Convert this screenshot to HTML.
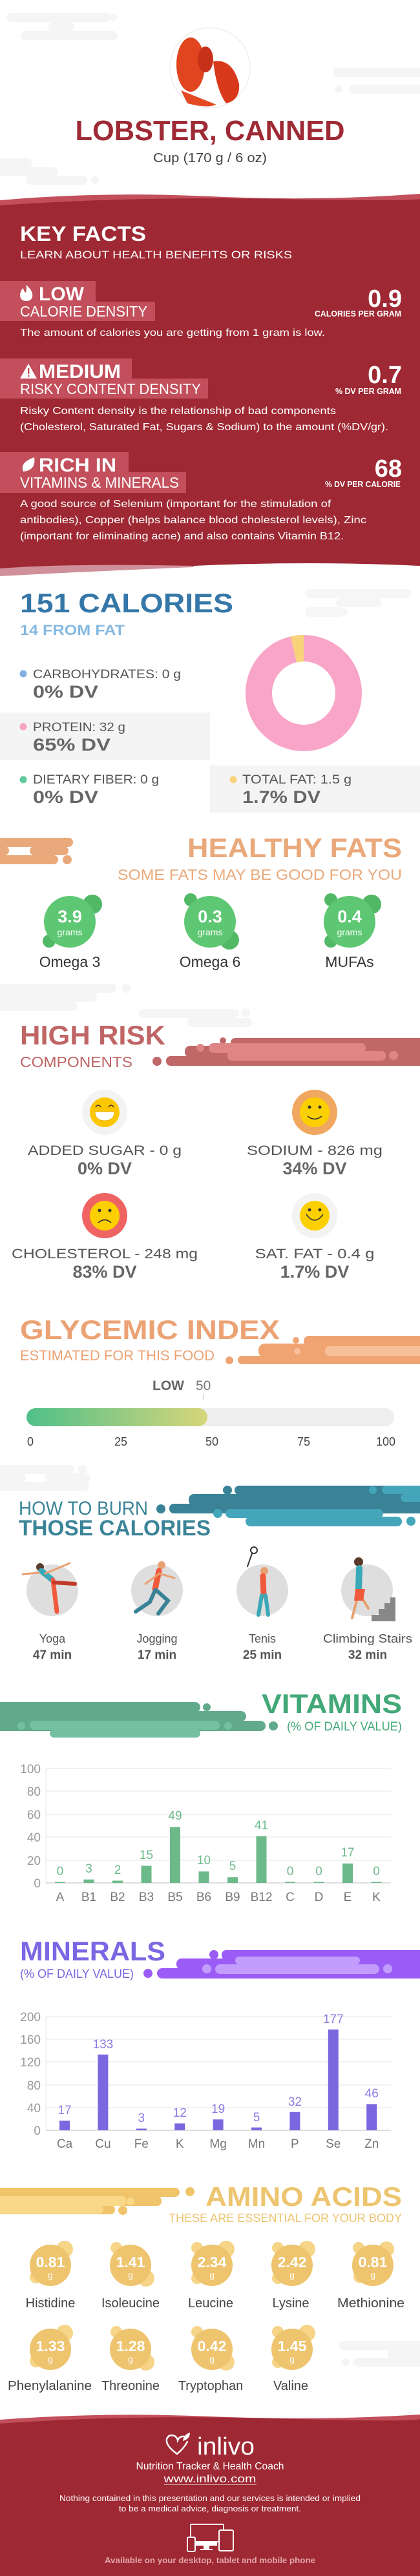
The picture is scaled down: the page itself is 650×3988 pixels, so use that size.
<!DOCTYPE html>
<html><head><meta charset="utf-8"><style>html,body{margin:0;padding:0;background:#fff}svg{display:block}</style></head><body>
<svg width="650" height="3988" viewBox="0 0 650 3988" xmlns="http://www.w3.org/2000/svg" font-family="Liberation Sans, Arial, sans-serif">
<defs>
<linearGradient id="gi" x1="0" x2="1" y1="0" y2="0"><stop offset="0" stop-color="#4fc08a"/><stop offset="1" stop-color="#d6d67a"/></linearGradient>
</defs>
<!-- top deco -->
<g fill="#f5f5f5">
<rect x="10" y="20" width="160" height="14" rx="7"/><rect x="75" y="34" width="40" height="14" rx="7"/><rect x="32" y="48" width="150" height="14" rx="7"/><circle cx="175" cy="27" r="6"/>
<rect x="515" y="105" width="150" height="14" rx="7"/><rect x="540" y="131" width="120" height="14" rx="7"/><circle cx="524" cy="138" r="6"/>
<rect x="-10" y="245" width="60" height="14" rx="7"/><rect x="-10" y="259" width="100" height="14" rx="7"/><rect x="40" y="272" width="95" height="14" rx="7"/><circle cx="147" cy="279" r="6"/>
</g>
<!-- lobster image -->
<circle cx="325" cy="105" r="62" fill="#fff" stroke="#f1f1f1" stroke-width="2"/>
<g fill="#d83a1e">
<ellipse cx="295" cy="100" rx="22" ry="42" fill="#e0451f"/>
<path d="M330 95 Q360 90 370 130 Q372 155 350 160 Q335 140 330 95Z" fill="#d9391a"/>
<path d="M280 140 Q305 150 335 162 Q320 168 290 160Z" fill="#e44a22"/>
<ellipse cx="318" cy="92" rx="12" ry="20" fill="#c7311a"/>
</g>
<text x="325" y="217" font-size="44" font-weight="bold" fill="#9e2a35" text-anchor="middle" textLength="417" lengthAdjust="spacingAndGlyphs">LOBSTER, CANNED</text>
<text x="325" y="251" font-size="20" fill="#444" text-anchor="middle" textLength="176" lengthAdjust="spacingAndGlyphs">Cup (170 g / 6 oz)</text>
<!-- red band -->
<path d="M0 310 Q160 296 325 304 T650 300 L650 330 L0 330Z" fill="#c24f5b"/>
<path d="M0 318 Q200 304 420 308 T650 308 L650 876 Q480 868 300 876 T0 880Z" fill="#9e2833"/>
<path d="M0 880 Q100 872 300 876 L300 878 Q150 884 0 892Z" fill="#d0909a"/>
<text x="31" y="373" font-size="32" font-weight="bold" fill="#fff" textLength="195" lengthAdjust="spacingAndGlyphs">KEY FACTS</text>
<text x="31" y="400" font-size="17" fill="#fff" textLength="421" lengthAdjust="spacingAndGlyphs">LEARN ABOUT HEALTH BENEFITS OR RISKS</text>
<!-- LOW -->
<rect x="0" y="435" width="148" height="32" fill="#c24f5b"/><rect x="0" y="467" width="240" height="30" fill="#c24f5b"/>
<path d="M40 441 Q52 450 50 460 Q48 466 41 466 Q32 466 31 458 Q31 450 36 446 Q37 452 40 453 Q42 448 40 441Z" fill="#fff"/>
<text x="60" y="465" font-size="30" font-weight="bold" fill="#fff" textLength="70" lengthAdjust="spacingAndGlyphs">LOW</text>
<text x="31" y="490" font-size="23" fill="#fff" textLength="197" lengthAdjust="spacingAndGlyphs">CALORIE DENSITY</text>
<text x="622" y="475" font-size="38" font-weight="bold" fill="#fff" text-anchor="end">0.9</text>
<text x="621" y="490" font-size="13" font-weight="bold" fill="#fff" text-anchor="end" textLength="134" lengthAdjust="spacingAndGlyphs">CALORIES PER GRAM</text>
<text x="31" y="520" font-size="16" fill="#fff" textLength="472" lengthAdjust="spacingAndGlyphs">The amount of calories you are getting from 1 gram is low.</text>
<!-- MEDIUM -->
<rect x="0" y="555" width="204" height="31" fill="#c24f5b"/><rect x="0" y="586" width="322" height="31" fill="#c24f5b"/>
<path d="M44 563 L57 586 L31 586Z" fill="#fff"/><rect x="43" y="570" width="2.4" height="9" fill="#c24f5b"/><rect x="43" y="581" width="2.4" height="2.4" fill="#c24f5b"/>
<text x="60" y="585" font-size="30" font-weight="bold" fill="#fff" textLength="127" lengthAdjust="spacingAndGlyphs">MEDIUM</text>
<text x="31" y="610" font-size="23" fill="#fff" textLength="280" lengthAdjust="spacingAndGlyphs">RISKY CONTENT DENSITY</text>
<text x="622" y="593" font-size="38" font-weight="bold" fill="#fff" text-anchor="end">0.7</text>
<text x="621" y="610" font-size="13" font-weight="bold" fill="#fff" text-anchor="end" textLength="102" lengthAdjust="spacingAndGlyphs">% DV PER GRAM</text>
<text x="31" y="641" font-size="16" fill="#fff" textLength="489" lengthAdjust="spacingAndGlyphs">Risky Content density is the relationship of bad components</text>
<text x="31" y="666" font-size="16" fill="#fff" textLength="570" lengthAdjust="spacingAndGlyphs">(Cholesterol, Saturated Fat, Sugars &amp; Sodium) to the amount (%DV/gr).</text>
<!-- RICH -->
<rect x="0" y="700" width="199" height="31" fill="#c24f5b"/><rect x="0" y="731" width="288" height="32" fill="#c24f5b"/>
<path d="M53 708 Q56 728 36 730 Q30 716 53 708Z" fill="#fff"/>
<text x="60" y="730" font-size="30" font-weight="bold" fill="#fff" textLength="120" lengthAdjust="spacingAndGlyphs">RICH  IN</text>
<text x="31" y="755" font-size="23" fill="#fff" textLength="246" lengthAdjust="spacingAndGlyphs">VITAMINS &amp; MINERALS</text>
<text x="622" y="738" font-size="38" font-weight="bold" fill="#fff" text-anchor="end">68</text>
<text x="620" y="754" font-size="13" font-weight="bold" fill="#fff" text-anchor="end" textLength="117" lengthAdjust="spacingAndGlyphs">% DV PER CALORIE</text>
<text x="31" y="785" font-size="16" fill="#fff" textLength="481" lengthAdjust="spacingAndGlyphs">A good source of Selenium (important for the stimulation of</text>
<text x="31" y="810" font-size="16" fill="#fff" textLength="536" lengthAdjust="spacingAndGlyphs">antibodies), Copper (helps balance blood cholesterol levels), Zinc</text>
<text x="31" y="835" font-size="16" fill="#fff" textLength="501" lengthAdjust="spacingAndGlyphs">(important for eliminating acne) and also contains Vitamin B12.</text>
<!-- calories -->
<g fill="#f6f6f6"><rect x="472" y="912" width="165" height="14" rx="7"/><rect x="520" y="926" width="70" height="14" rx="7"/><rect x="472" y="940" width="60" height="15" rx="7"/><circle cx="532" cy="948" r="6"/></g>
<text x="31" y="948" font-size="42" font-weight="bold" fill="#3577a8" textLength="330" lengthAdjust="spacingAndGlyphs">151 CALORIES</text>
<text x="31" y="983" font-size="22" font-weight="bold" fill="#86b9e0" textLength="162" lengthAdjust="spacingAndGlyphs">14 FROM FAT</text>
<rect x="0" y="1103" width="325" height="74" fill="#f4f4f4"/><rect x="325" y="1185" width="325" height="73" fill="#f4f4f4"/>
<circle cx="470" cy="1073" r="69.5" fill="none" stroke="#f8a5c8" stroke-width="41"/>
<circle cx="470" cy="1073" r="69.5" fill="none" stroke="#f8d37a" stroke-width="41" stroke-dasharray="15.8 500" transform="rotate(-103 470 1073)"/>
<circle cx="36" cy="1043" r="5.5" fill="#7fb2e0"/>
<text x="51" y="1050" font-size="19" fill="#555" textLength="229" lengthAdjust="spacingAndGlyphs">CARBOHYDRATES: 0 g</text>
<text x="51" y="1080" font-size="27" font-weight="bold" fill="#666" textLength="101" lengthAdjust="spacingAndGlyphs">0% DV</text>
<circle cx="36" cy="1125" r="5.5" fill="#f7a3c6"/>
<text x="51" y="1132" font-size="19" fill="#555" textLength="143" lengthAdjust="spacingAndGlyphs">PROTEIN: 32 g</text>
<text x="51" y="1162" font-size="27" font-weight="bold" fill="#666" textLength="120" lengthAdjust="spacingAndGlyphs">65% DV</text>
<circle cx="36" cy="1207" r="5.5" fill="#5fcb9b"/>
<text x="51" y="1213" font-size="19" fill="#555" textLength="195" lengthAdjust="spacingAndGlyphs">DIETARY FIBER: 0 g</text>
<text x="51" y="1243" font-size="27" font-weight="bold" fill="#666" textLength="101" lengthAdjust="spacingAndGlyphs">0% DV</text>
<circle cx="361" cy="1207" r="5.5" fill="#f8d37a"/>
<text x="375" y="1213" font-size="19" fill="#555" textLength="169" lengthAdjust="spacingAndGlyphs">TOTAL FAT: 1.5 g</text>
<text x="375" y="1243" font-size="27" font-weight="bold" fill="#666" textLength="121" lengthAdjust="spacingAndGlyphs">1.7% DV</text>
<!-- healthy fats -->
<g fill="#e9a97a"><rect x="-10" y="1297" width="123" height="14" rx="7"/><rect x="-10" y="1310" width="24" height="14" rx="7"/><rect x="46" y="1310" width="60" height="14" rx="7"/><rect x="-10" y="1324" width="100" height="14" rx="7"/><circle cx="104" cy="1331" r="7"/></g>
<text x="622" y="1327" font-size="42" font-weight="bold" fill="#e9a97a" text-anchor="end" textLength="332" lengthAdjust="spacingAndGlyphs">HEALTHY FATS</text>
<text x="622" y="1362" font-size="23" fill="#e9a97a" text-anchor="end" textLength="440" lengthAdjust="spacingAndGlyphs">SOME FATS MAY BE GOOD FOR YOU</text>
<g fill="#51b866"><circle cx="143" cy="1400" r="15"/><circle cx="76" cy="1457" r="10"/><circle cx="295" cy="1393" r="10"/><circle cx="355" cy="1455" r="15"/><circle cx="512" cy="1393" r="10"/><circle cx="575" cy="1400" r="15"/><circle cx="512" cy="1457" r="10"/></g>
<g fill="#5ec773"><circle cx="108" cy="1427" r="40"/><circle cx="325" cy="1427" r="40"/><circle cx="541" cy="1427" r="40"/></g>
<g fill="#fff" text-anchor="middle"><text x="108" y="1428" font-size="27" font-weight="bold">3.9</text><text x="325" y="1428" font-size="27" font-weight="bold">0.3</text><text x="541" y="1428" font-size="27" font-weight="bold">0.4</text>
<text x="108" y="1448" font-size="14">grams</text><text x="325" y="1448" font-size="14">grams</text><text x="541" y="1448" font-size="14">grams</text></g>
<g fill="#333" text-anchor="middle" font-size="23"><text x="108" y="1497">Omega 3</text><text x="325" y="1497">Omega 6</text><text x="541" y="1497">MUFAs</text></g>
<!-- high risk -->
<g fill="#f5f5f5"><rect x="-10" y="1523" width="190" height="14" rx="7"/><rect x="-10" y="1537" width="160" height="14" rx="7"/><rect x="-10" y="1551" width="130" height="14" rx="7"/><circle cx="195" cy="1530" r="7"/><rect x="215" y="1562" width="155" height="14" rx="7"/><rect x="290" y="1576" width="100" height="14" rx="7"/><circle cx="380" cy="1568" r="7"/></g>
<text x="31" y="1617" font-size="42" font-weight="bold" fill="#c06565" textLength="225" lengthAdjust="spacingAndGlyphs">HIGH RISK</text>
<text x="31" y="1652" font-size="23" fill="#c06565" textLength="174" lengthAdjust="spacingAndGlyphs">COMPONENTS</text>
<g fill="#c06868"><rect x="357" y="1607" width="300" height="14" rx="7"/><rect x="286" y="1619" width="370" height="18" rx="8"/><rect x="257" y="1635" width="400" height="15" rx="7"/><circle cx="243" cy="1643" r="7"/><circle cx="345" cy="1611" r="5"/></g>
<g fill="#e08585"><rect x="323" y="1615" width="243" height="15" rx="7"/><rect x="352" y="1627" width="245" height="15" rx="7"/><circle cx="310" cy="1622" r="6"/><circle cx="609" cy="1634" r="7"/></g>
<!-- smileys -->
<circle cx="162" cy="1722" r="35" fill="#f3f3f3"/><circle cx="162" cy="1722" r="23" fill="#fcc600"/>
<path d="M148 1714 q4 -6 8 0 M168 1714 q4 -6 8 0" stroke="#333" stroke-width="1.5" fill="none"/>
<path d="M147 1721 h30 q0 14 -15 14 q-15 0 -15 -14Z" fill="#fff" stroke="#e8b000"/>
<circle cx="487" cy="1722" r="35" fill="#f0a860"/><circle cx="487" cy="1722" r="23" fill="#fcd000"/>
<circle cx="479" cy="1714" r="2.5" fill="#333"/><circle cx="495" cy="1714" r="2.5" fill="#333"/><path d="M476 1728 q11 9 22 0" stroke="#333" stroke-width="1.6" fill="none"/>
<circle cx="162" cy="1882" r="35" fill="#f06363"/><circle cx="162" cy="1882" r="23" fill="#fcd000"/>
<circle cx="154" cy="1874" r="2.5" fill="#333"/><circle cx="170" cy="1874" r="2.5" fill="#333"/><path d="M152 1893 q10 -9 20 0" stroke="#333" stroke-width="1.6" fill="none"/>
<circle cx="487" cy="1882" r="35" fill="#f3f3f3"/><circle cx="487" cy="1882" r="23" fill="#fcd000"/>
<circle cx="479" cy="1873" r="2.5" fill="#333"/><circle cx="495" cy="1873" r="2.5" fill="#333"/><path d="M474 1880 q13 18 26 0" stroke="#333" stroke-width="1.6" fill="none"/>
<g fill="#555" text-anchor="middle" font-size="21">
<text x="162" y="1788" textLength="238" lengthAdjust="spacingAndGlyphs">ADDED SUGAR - 0 g</text>
<text x="487" y="1788" textLength="210" lengthAdjust="spacingAndGlyphs">SODIUM - 826 mg</text>
<text x="162" y="1948" textLength="288" lengthAdjust="spacingAndGlyphs">CHOLESTEROL - 248 mg</text>
<text x="487" y="1948" textLength="185" lengthAdjust="spacingAndGlyphs">SAT. FAT - 0.4 g</text></g>
<g fill="#666" text-anchor="middle" font-size="27" font-weight="bold">
<text x="162" y="1818">0% DV</text><text x="487" y="1818">34% DV</text><text x="162" y="1978">83% DV</text><text x="487" y="1978">1.7% DV</text></g>
<!-- glycemic -->
<text x="31" y="2073" font-size="42" font-weight="bold" fill="#eba274" textLength="402" lengthAdjust="spacingAndGlyphs">GLYCEMIC INDEX</text>
<text x="31" y="2106" font-size="22" fill="#eba274" textLength="301" lengthAdjust="spacingAndGlyphs">ESTIMATED FOR THIS FOOD</text>
<g fill="#f0a472"><rect x="470" y="2068" width="190" height="16" rx="8"/><circle cx="458" cy="2075" r="5"/><rect x="400" y="2080" width="260" height="22" rx="10"/><rect x="368" y="2099" width="290" height="13" rx="6.5"/><circle cx="355" cy="2106" r="6"/></g>
<g fill="#f7c09a"><rect x="503" y="2084" width="160" height="15" rx="7"/><circle cx="460" cy="2092" r="5"/></g>
<text x="236" y="2152" font-size="21" font-weight="bold" fill="#666">LOW</text>
<text x="303" y="2152" font-size="21" fill="#777">50</text>
<rect x="314.5" y="2158" width="1.2" height="10" fill="#ccc"/>
<rect x="41" y="2180" width="569" height="28" rx="14" fill="#eeeeee"/>
<rect x="41" y="2180" width="280" height="28" rx="14" fill="url(#gi)"/>
<g fill="#444" font-size="18" text-anchor="middle"><text x="47" y="2238">0</text><text x="187" y="2238">25</text><text x="328" y="2238">50</text><text x="470" y="2238">75</text><text x="597" y="2238">100</text></g>
<!-- burn -->
<g fill="#f5f5f5"><rect x="-10" y="2268" width="125" height="14" rx="7"/><circle cx="128" cy="2275" r="7"/><rect x="-10" y="2281" width="50" height="14" rx="7"/><rect x="70" y="2281" width="70" height="14" rx="7"/><rect x="-10" y="2294" width="148" height="14" rx="7"/></g>
<g fill="#3a8296"><rect x="363" y="2300" width="300" height="14" rx="7"/><circle cx="352" cy="2307" r="7"/><rect x="292" y="2313" width="370" height="18" rx="8"/><rect x="262" y="2328" width="400" height="15" rx="7"/><circle cx="249" cy="2336" r="7"/></g>
<g fill="#44a5bb"><rect x="591" y="2300" width="70" height="13" rx="6.5"/><circle cx="577" cy="2307" r="6"/><rect x="620" y="2313" width="40" height="12" rx="6"/><rect x="349" y="2336" width="244" height="14" rx="7"/><circle cx="337" cy="2343" r="7"/><rect x="380" y="2348" width="242" height="15" rx="7.5"/><circle cx="636" cy="2355" r="7"/></g>
<text x="29" y="2345" font-size="30" fill="#3b8497" textLength="200" lengthAdjust="spacingAndGlyphs">HOW TO BURN</text>
<text x="29" y="2377" font-size="34" font-weight="bold" fill="#3b8497" textLength="297" lengthAdjust="spacingAndGlyphs">THOSE CALORIES</text>
<g fill="#dedede"><circle cx="81" cy="2462" r="40"/><circle cx="243" cy="2462" r="40"/><circle cx="406" cy="2462" r="40"/><circle cx="568" cy="2462" r="40"/></g>
<!-- figures -->
<g stroke-linecap="round">
<circle cx="62" cy="2426" r="6" fill="#5a3a2a"/><path d="M64 2432 L80 2445" stroke="#3aa8b8" stroke-width="9"/><path d="M82 2446 L88 2495" stroke="#f05a3c" stroke-width="7"/><path d="M84 2450 L116 2452" stroke="#c0392b" stroke-width="6"/><path d="M60 2435 L35 2437 M70 2436 L108 2420" stroke="#e8a070" stroke-width="3"/>
<circle cx="250" cy="2423" r="6" fill="#e8a070"/><path d="M246 2432 L240 2460" stroke="#f05a3c" stroke-width="9"/><path d="M240 2462 L232 2480 L210 2495 M242 2462 L260 2478 L245 2498" stroke="#3a8296" stroke-width="6" fill="none"/><path d="M246 2436 L270 2443 M244 2438 L225 2452" stroke="#e8a070" stroke-width="3"/>
<path d="M390 2405 L383 2425" stroke="#333" stroke-width="2"/><circle cx="393" cy="2400" r="5" fill="none" stroke="#333" stroke-width="2"/><circle cx="409" cy="2432" r="6" fill="#e8a070"/><path d="M407 2440 L408 2470" stroke="#f05a3c" stroke-width="9"/><path d="M405 2470 L400 2500 M411 2470 L415 2500" stroke="#3aa8b8" stroke-width="6"/>
<circle cx="555" cy="2418" r="7" fill="#5a3a2a"/><path d="M556 2428 L555 2460" stroke="#3aa8b8" stroke-width="10"/><path d="M555 2462 L552 2478 L545 2505 M558 2470 L570 2490" stroke="#e8a070" stroke-width="4" fill="none"/><path d="M550 2460 L565 2460 L562 2478 L548 2478Z" fill="#f05a3c"/><path d="M575 2510 h37 v-37 h-8 v9 h-9 v9 h-9 v9 h-11Z" fill="#888"/>
</g>
<g fill="#555" text-anchor="middle" font-size="18"><text x="81" y="2543">Yoga</text><text x="243" y="2543">Jogging</text><text x="406" y="2543">Tenis</text><text x="569" y="2543" textLength="138" lengthAdjust="spacingAndGlyphs">Climbing Stairs</text></g>
<g fill="#555" text-anchor="middle" font-size="19" font-weight="bold"><text x="81" y="2568">47 min</text><text x="243" y="2568">17 min</text><text x="406" y="2568">25 min</text><text x="569" y="2568">32 min</text></g>
<!-- vitamins -->
<g fill="#62aa8c"><rect x="-10" y="2635" width="320" height="16" rx="8"/><circle cx="320" cy="2643" r="6"/><rect x="-10" y="2649" width="391" height="16" rx="8"/><rect x="-10" y="2664" width="421" height="16" rx="8"/><circle cx="423" cy="2672" r="7"/></g>
<g fill="#74c0a0"><rect x="46" y="2664" width="294" height="14" rx="7"/><circle cx="33" cy="2672" r="6"/><circle cx="353" cy="2672" r="6"/><rect x="77" y="2677" width="233" height="13" rx="6.5"/></g>
<text x="622" y="2652" font-size="42" font-weight="bold" fill="#43a878" text-anchor="end" textLength="217" lengthAdjust="spacingAndGlyphs">VITAMINS</text>
<text x="622" y="2679" font-size="19" fill="#43a878" text-anchor="end" textLength="178" lengthAdjust="spacingAndGlyphs">(% OF DAILY VALUE)</text>
<g stroke="#e6e6e6" stroke-width="1"><line x1="71" y1="2738" x2="605" y2="2738"/><line x1="71" y1="2773" x2="605" y2="2773"/><line x1="71" y1="2809" x2="605" y2="2809"/><line x1="71" y1="2844" x2="605" y2="2844"/><line x1="71" y1="2880" x2="605" y2="2880"/><line x1="71" y1="2738" x2="71" y2="2915"/></g>
<line x1="71" y1="2915" x2="605" y2="2915" stroke="#ccc" stroke-width="1.2"/>
<g fill="#999" font-size="19" text-anchor="end"><text x="63" y="2745">100</text><text x="63" y="2780">80</text><text x="63" y="2816">60</text><text x="63" y="2851">40</text><text x="63" y="2887">20</text><text x="63" y="2922">0</text></g>
<g fill="#6cba8a">
<rect x="85" y="2913.5" width="16" height="1.5"/><rect x="129.5" y="2909.7" width="16" height="5.3"/><rect x="174" y="2911.5" width="16" height="3.5"/><rect x="218.5" y="2888.5" width="16" height="26.5"/><rect x="263" y="2828.4" width="16" height="86.6"/><rect x="307.5" y="2897.3" width="16" height="17.7"/><rect x="352" y="2906.2" width="16" height="8.8"/><rect x="396.5" y="2842.6" width="16" height="72.4"/><rect x="441" y="2913.5" width="16" height="1.5"/><rect x="485.5" y="2913.5" width="16" height="1.5"/><rect x="530" y="2885" width="16" height="30"/><rect x="574.5" y="2913.5" width="16" height="1.5"/>
</g>
<g fill="#6cba8a" font-size="19" text-anchor="middle"><text x="93" y="2903">0</text><text x="137.5" y="2899">3</text><text x="182" y="2901">2</text><text x="226.5" y="2878">15</text><text x="271" y="2817">49</text><text x="315.5" y="2886">10</text><text x="360" y="2895">5</text><text x="404.5" y="2832">41</text><text x="449" y="2903">0</text><text x="493.5" y="2903">0</text><text x="538" y="2874">17</text><text x="582.5" y="2903">0</text></g>
<g fill="#777" font-size="19" text-anchor="middle"><text x="93" y="2943">A</text><text x="137.5" y="2943">B1</text><text x="182" y="2943">B2</text><text x="226.5" y="2943">B3</text><text x="271" y="2943">B5</text><text x="315.5" y="2943">B6</text><text x="360" y="2943">B9</text><text x="404.5" y="2943">B12</text><text x="449" y="2943">C</text><text x="493.5" y="2943">D</text><text x="538" y="2943">E</text><text x="582.5" y="2943">K</text></g>
<!-- minerals -->
<text x="31" y="3035" font-size="42" font-weight="bold" fill="#7b66e3" textLength="225" lengthAdjust="spacingAndGlyphs">MINERALS</text>
<text x="31" y="3062" font-size="19" fill="#7b66e3" textLength="176" lengthAdjust="spacingAndGlyphs">(% OF DAILY VALUE)</text>
<g fill="#9b5cf6"><rect x="343" y="3019" width="320" height="15" rx="7"/><circle cx="331" cy="3026" r="7"/><rect x="273" y="3032" width="390" height="17" rx="8"/><rect x="243" y="3047" width="420" height="16" rx="8"/><circle cx="229" cy="3055" r="7"/></g>
<g fill="#c39dfd"><rect x="364" y="3029" width="193" height="12" rx="6"/><rect x="333" y="3041" width="254" height="15" rx="7.5"/><circle cx="320" cy="3048" r="7"/><circle cx="600" cy="3048" r="7"/></g>
<g stroke="#e6e6e6" stroke-width="1"><line x1="71" y1="3122" x2="605" y2="3122"/><line x1="71" y1="3157" x2="605" y2="3157"/><line x1="71" y1="3192" x2="605" y2="3192"/><line x1="71" y1="3228" x2="605" y2="3228"/><line x1="71" y1="3263" x2="605" y2="3263"/><line x1="71" y1="3122" x2="71" y2="3298"/></g>
<line x1="71" y1="3298" x2="605" y2="3298" stroke="#ccc" stroke-width="1.2"/>
<g fill="#999" font-size="19" text-anchor="end"><text x="63" y="3129">200</text><text x="63" y="3164">160</text><text x="63" y="3199">120</text><text x="63" y="3235">80</text><text x="63" y="3270">40</text><text x="63" y="3305">0</text></g>
<g fill="#7b68e0">
<rect x="92" y="3283" width="16" height="15"/><rect x="151.4" y="3180.7" width="16" height="117.3"/><rect x="210.8" y="3295.4" width="16" height="2.6"/><rect x="270.2" y="3287.4" width="16" height="10.6"/><rect x="329.6" y="3281.2" width="16" height="16.8"/><rect x="389" y="3293.6" width="16" height="4.4"/><rect x="448.4" y="3269.8" width="16" height="28.2"/><rect x="507.8" y="3141.9" width="16" height="156.1"/><rect x="567.2" y="3257.4" width="16" height="40.6"/>
</g>
<g fill="#8a7be6" font-size="19" text-anchor="middle"><text x="100" y="3273">17</text><text x="159.4" y="3171">133</text><text x="218.8" y="3285">3</text><text x="278.2" y="3277">12</text><text x="337.6" y="3271">19</text><text x="397" y="3284">5</text><text x="456.4" y="3260">32</text><text x="515.8" y="3132">177</text><text x="575.2" y="3247">46</text></g>
<g fill="#777" font-size="19" text-anchor="middle"><text x="100" y="3325">Ca</text><text x="159.4" y="3325">Cu</text><text x="218.8" y="3325">Fe</text><text x="278.2" y="3325">K</text><text x="337.6" y="3325">Mg</text><text x="397" y="3325">Mn</text><text x="456.4" y="3325">P</text><text x="515.8" y="3325">Se</text><text x="575.2" y="3325">Zn</text></g>
<!-- amino -->
<g fill="#f0c46a"><rect x="-10" y="3387" width="288" height="14" rx="7"/><circle cx="294" cy="3393" r="7"/><rect x="150" y="3400" width="100" height="15" rx="7"/><rect x="-10" y="3414" width="188" height="14" rx="7"/><circle cx="190" cy="3422" r="7"/></g>
<g fill="#fad88a"><rect x="-10" y="3400" width="205" height="15" rx="7"/><circle cx="202" cy="3408" r="6"/><rect x="-10" y="3414" width="170" height="13" rx="6.5"/></g>
<text x="622" y="3415" font-size="42" font-weight="bold" fill="#edc46f" text-anchor="end" textLength="304" lengthAdjust="spacingAndGlyphs">AMINO ACIDS</text>
<text x="622" y="3440" font-size="18" fill="#edc46f" text-anchor="end" textLength="361" lengthAdjust="spacingAndGlyphs">THESE ARE ESSENTIAL FOR YOUR BODY</text>
<g fill="#f6d488">
<circle cx="100" cy="3482" r="13"/><circle cx="56" cy="3525" r="10"/>
<circle cx="180" cy="3480" r="9"/><circle cx="226" cy="3527" r="13"/>
<circle cx="305" cy="3480" r="9"/><circle cx="350" cy="3482" r="13"/><circle cx="305" cy="3527" r="9"/>
<circle cx="430" cy="3480" r="9"/><circle cx="475" cy="3482" r="13"/><circle cx="430" cy="3527" r="9"/>
<circle cx="555" cy="3480" r="9"/><circle cx="598" cy="3482" r="12"/><circle cx="556" cy="3525" r="9"/>
<circle cx="100" cy="3612" r="13"/><circle cx="56" cy="3655" r="10"/>
<circle cx="180" cy="3610" r="9"/><circle cx="226" cy="3657" r="13"/>
<circle cx="305" cy="3610" r="9"/><circle cx="350" cy="3657" r="13"/>
<circle cx="430" cy="3610" r="9"/><circle cx="475" cy="3612" r="13"/><circle cx="430" cy="3657" r="9"/>
</g>
<g fill="#eec46e"><circle cx="78" cy="3507" r="32"/><circle cx="202" cy="3507" r="32"/><circle cx="328" cy="3507" r="32"/><circle cx="452" cy="3507" r="32"/><circle cx="577" cy="3507" r="32"/>
<circle cx="78" cy="3637" r="32"/><circle cx="202" cy="3637" r="32"/><circle cx="328" cy="3637" r="32"/><circle cx="452" cy="3637" r="32"/></g>
<g fill="#fff" text-anchor="middle" font-size="23" font-weight="bold"><text x="78" y="3510">0.81</text><text x="202" y="3510">1.41</text><text x="328" y="3510">2.34</text><text x="452" y="3510">2.42</text><text x="577" y="3510">0.81</text>
<text x="78" y="3640">1.33</text><text x="202" y="3640">1.28</text><text x="328" y="3640">0.42</text><text x="452" y="3640">1.45</text></g>
<g fill="#fff" text-anchor="middle" font-size="14"><text x="78" y="3527">g</text><text x="202" y="3527">g</text><text x="328" y="3527">g</text><text x="452" y="3527">g</text><text x="577" y="3527">g</text><text x="78" y="3657">g</text><text x="202" y="3657">g</text><text x="328" y="3657">g</text><text x="452" y="3657">g</text></g>
<g fill="#444" text-anchor="middle" font-size="20"><text x="78" y="3572">Histidine</text><text x="202" y="3572">Isoleucine</text><text x="326" y="3572">Leucine</text><text x="450" y="3572">Lysine</text><text x="574" y="3572" textLength="104" lengthAdjust="spacingAndGlyphs">Methionine</text>
<text x="77" y="3700" textLength="130" lengthAdjust="spacingAndGlyphs">Phenylalanine</text><text x="202" y="3700">Threonine</text><text x="326" y="3700">Tryptophan</text><text x="450" y="3700">Valine</text></g>
<g fill="#f5f5f5"><rect x="525" y="3624" width="140" height="14" rx="7"/><rect x="600" y="3637" width="60" height="14" rx="7"/><rect x="547" y="3650" width="115" height="14" rx="7"/><circle cx="535" cy="3657" r="6"/></g>
<!-- footer -->
<path d="M0 3746 Q160 3734 325 3741 T650 3738 L650 3760 L0 3760Z" fill="#c24f5b"/>
<path d="M0 3752 Q200 3738 420 3744 T650 3745 L650 3988 L0 3988Z" fill="#9e2833"/>
<path d="M274 3799 Q256 3786 258 3776 Q261 3768 270 3771 Q274 3773 275 3778 Q278 3771 285 3772" stroke="#fff" stroke-width="2.5" fill="none" stroke-linecap="round"/>
<path d="M274 3799 Q285 3790 290 3780" stroke="#fff" stroke-width="2.5" fill="none" stroke-linecap="round"/>
<path d="M283 3779 Q284 3769 294 3766 Q294 3776 283 3779Z" fill="#fff"/>
<text x="305" y="3800" font-size="38" fill="#fff" textLength="89" lengthAdjust="spacingAndGlyphs">inlivo</text>
<text x="325" y="3823" font-size="16" fill="#fff" text-anchor="middle" textLength="229" lengthAdjust="spacingAndGlyphs">Nutrition Tracker &amp; Health Coach</text>
<text x="325" y="3843" font-size="17" fill="#fff" text-anchor="middle" textLength="143" lengthAdjust="spacingAndGlyphs">www.inlivo.com</text>
<line x1="254" y1="3846.5" x2="397" y2="3846.5" stroke="#fff" stroke-opacity="0.7" stroke-width="0.8"/>
<text x="325" y="3872" font-size="13" fill="#fff" text-anchor="middle" textLength="466" lengthAdjust="spacingAndGlyphs">Nothing contained in this presentation and our services is intended or implied</text>
<text x="325" y="3888" font-size="13" fill="#fff" text-anchor="middle" textLength="282" lengthAdjust="spacingAndGlyphs">to be a medical advice, diagnosis or treatment.</text>
<g fill="none" stroke="#fff" stroke-width="2"><rect x="295" y="3908" width="51" height="27" rx="1"/><rect x="290" y="3928" width="12" height="22" rx="2" fill="#9e2833"/><rect x="339" y="3917" width="22" height="32" rx="2" fill="#9e2833"/></g>
<rect x="303" y="3935" width="33" height="6" fill="#fff"/><rect x="315" y="3941" width="9" height="5" fill="#fff"/><rect x="310" y="3946" width="19" height="2" fill="#fff"/>
<text x="325" y="3968" font-size="13" font-weight="bold" fill="#e3a5ab" text-anchor="middle" textLength="326" lengthAdjust="spacingAndGlyphs">Available on your desktop, tablet and mobile phone</text>
</svg>
</body></html>
